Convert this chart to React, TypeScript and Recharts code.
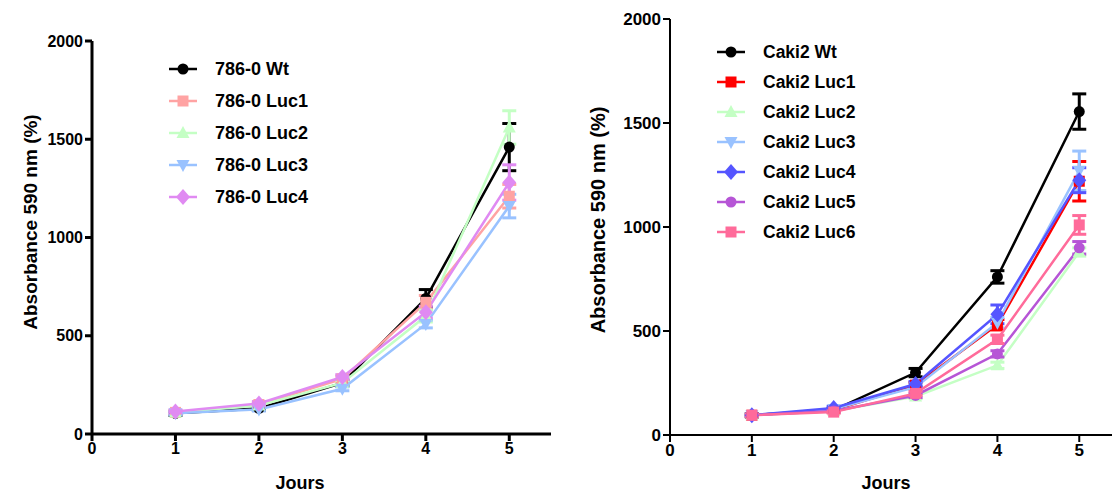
import React from "react";
import { LineChart, Line, XAxis, YAxis, ErrorBar, Legend } from "recharts";

const days = [1, 2, 3, 4, 5];
const yTicks = [0, 500, 1000, 1500, 2000];
const xTicks = [0, 1, 2, 3, 4, 5];

// 786-0 (gauche)
const wt786 = [105, 130, 260, 690, 1460];
const wt786Err = [10, 10, 15, 45, 120];
const luc1_786 = [110, 150, 280, 670, 1210];
const luc1_786Err = [8, 10, 15, 35, 60];
const luc2_786 = [110, 145, 260, 600, 1560];
const luc2_786Err = [8, 10, 12, 30, 85];
const luc3_786 = [105, 125, 230, 560, 1160];
const luc3_786Err = [8, 8, 10, 20, 60];
const luc4_786 = [115, 155, 290, 620, 1280];
const luc4_786Err = [8, 10, 12, 30, 90];

// Caki2 (droite)
const wtCaki = [95, 120, 300, 760, 1555];
const wtCakiErr = [8, 8, 20, 30, 85];
const luc1Caki = [95, 120, 240, 530, 1220];
const luc1CakiErr = [5, 8, 12, 25, 95];
const luc2Caki = [95, 115, 185, 335, 880];
const luc2CakiErr = [5, 5, 10, 15, 20];
const luc3Caki = [95, 125, 230, 540, 1270];
const luc3CakiErr = [5, 8, 12, 25, 95];
const luc4Caki = [95, 130, 245, 580, 1225];
const luc4CakiErr = [5, 8, 12, 45, 60];
const luc5Caki = [95, 115, 190, 390, 900];
const luc5CakiErr = [5, 5, 10, 15, 30];
const luc6Caki = [95, 110, 200, 460, 1010];
const luc6CakiErr = [5, 5, 10, 20, 45];

type Shape = "circle" | "square" | "triangle" | "down" | "diamond";
type Serie = { name: string; vals: number[]; err: number[]; color: string; shape: Shape };

const left: Serie[] = [
  { name: "786-0 Wt", vals: wt786, err: wt786Err, color: "#000000", shape: "circle" },
  { name: "786-0 Luc1", vals: luc1_786, err: luc1_786Err, color: "#ffa3a3", shape: "square" },
  { name: "786-0 Luc2", vals: luc2_786, err: luc2_786Err, color: "#c4ffc4", shape: "triangle" },
  { name: "786-0 Luc3", vals: luc3_786, err: luc3_786Err, color: "#99c2ff", shape: "down" },
  { name: "786-0 Luc4", vals: luc4_786, err: luc4_786Err, color: "#e08af2", shape: "diamond" },
];

const right: Serie[] = [
  { name: "Caki2 Wt", vals: wtCaki, err: wtCakiErr, color: "#000000", shape: "circle" },
  { name: "Caki2 Luc1", vals: luc1Caki, err: luc1CakiErr, color: "#ff0000", shape: "square" },
  { name: "Caki2 Luc2", vals: luc2Caki, err: luc2CakiErr, color: "#c4ffc4", shape: "triangle" },
  { name: "Caki2 Luc3", vals: luc3Caki, err: luc3CakiErr, color: "#99c2ff", shape: "down" },
  { name: "Caki2 Luc4", vals: luc4Caki, err: luc4CakiErr, color: "#5555ff", shape: "diamond" },
  { name: "Caki2 Luc5", vals: luc5Caki, err: luc5CakiErr, color: "#b655d6", shape: "circle" },
  { name: "Caki2 Luc6", vals: luc6Caki, err: luc6CakiErr, color: "#ff6b9a", shape: "square" },
];

const buildRows = (series: Serie[]) =>
  days.map((d, i) => {
    const row: Record<string, number> = { day: d };
    series.forEach((s, k) => {
      row["s" + k] = s.vals[i];
      row["e" + k] = s.err[i];
    });
    return row;
  });

const FONT = "'Liberation Sans', Arial, sans-serif";

function marker(shape: Shape, cx: number, cy: number, color: string, key?: string) {
  if (shape === "circle") return <circle key={key} cx={cx} cy={cy} r={5.5} fill={color} />;
  if (shape === "square") return <rect key={key} x={cx - 5.5} y={cy - 5.5} width={11} height={11} fill={color} />;
  if (shape === "triangle")
    return <path key={key} d={`M${cx},${cy - 7} L${cx + 6.5},${cy + 5} L${cx - 6.5},${cy + 5} Z`} fill={color} />;
  if (shape === "down")
    return <path key={key} d={`M${cx},${cy + 7} L${cx + 6.5},${cy - 5} L${cx - 6.5},${cy - 5} Z`} fill={color} />;
  return <path key={key} d={`M${cx},${cy - 8} L${cx + 7},${cy} L${cx},${cy + 8} L${cx - 7},${cy} Z`} fill={color} />;
}

const dotFor = (s: Serie) => (p: any) => marker(s.shape, p.cx, p.cy, s.color, `${s.name}-${p.index}`);

function LegendBox({ series, gap, fontSize }: { series: Serie[]; gap: number; fontSize: number }) {
  return (
    <div style={{ fontFamily: FONT }}>
      {series.map((s) => (
        <div key={s.name} style={{ display: "flex", alignItems: "center", height: gap }}>
          <svg width={30} height={18} style={{ marginRight: 17 }}>
            <line x1={1} y1={9} x2={29} y2={9} stroke={s.color} strokeWidth={2.5} />
            {marker(s.shape, 15, 9, s.color)}
          </svg>
          <span style={{ fontSize, fontWeight: "bold", color: "#000" }}>{s.name}</span>
        </div>
      ))}
    </div>
  );
}

type PanelProps = {
  series: Serie[];
  width: number;
  axisX: number;
  top: number;
  right: number;
  xMax: number;
  axisW: number;
  tickFont: number;
  titleFont: number;
  legendFont: number;
  legendLeft: number;
  legendTop: number;
  legendGap: number;
  yLabelX: number;
  yLabelY: number;
  xLabelX: number;
};

function Panel(p: PanelProps) {
  const rows = buildRows(p.series);
  const tickStyle = { fill: "#000", fontSize: p.tickFont, fontWeight: "bold", fontFamily: FONT };
  return (
    <LineChart
      width={p.width}
      height={494}
      data={rows}
      margin={{ top: p.top, right: p.right, bottom: 494 - 435 - 30 + (p.top > 30 ? 1 : 0), left: 0 }}
      style={{ fontFamily: FONT }}
    >
      <XAxis
        type="number"
        dataKey="day"
        domain={[0, p.xMax]}
        ticks={xTicks}
        height={30}
        tick={tickStyle}
        tickSize={7}
        axisLine={{ stroke: "#000", strokeWidth: p.axisW }}
        tickLine={{ stroke: "#000", strokeWidth: p.axisW }}
        label={{
          content: () => (
            <text x={p.xLabelX} y={489} textAnchor="middle" fontSize={18} fontWeight="bold" fontFamily={FONT} fill="#000">
              Jours
            </text>
          ),
        }}
      />
      <YAxis
        type="number"
        domain={[0, 2000]}
        ticks={yTicks}
        width={p.axisX}
        tick={tickStyle}
        tickSize={7}
        axisLine={{ stroke: "#000", strokeWidth: p.axisW }}
        tickLine={{ stroke: "#000", strokeWidth: p.axisW }}
        label={{
          content: () => (
            <text
              x={p.yLabelX}
              y={p.yLabelY}
              transform={`rotate(-90, ${p.yLabelX}, ${p.yLabelY})`}
              textAnchor="middle"
              dominantBaseline="central"
              fontSize={p.titleFont}
              fontWeight="bold"
              fontFamily={FONT}
              fill="#000"
            >
              Absorbance 590 nm (%)
            </text>
          ),
        }}
      />
      <Legend
        layout="vertical"
        align="center"
        verticalAlign="middle"
        wrapperStyle={{ left: p.legendLeft, top: p.legendTop }}
        content={() => <LegendBox series={p.series} gap={p.legendGap} fontSize={p.legendFont} />}
      />
      {p.series.map((s, k) => (
        <Line
          key={s.name}
          type="linear"
          dataKey={"s" + k}
          stroke={s.color}
          strokeWidth={2.5}
          dot={dotFor(s)}
          activeDot={false}
          isAnimationActive={false}
        >
          <ErrorBar dataKey={"e" + k} direction="y" width={7} stroke={s.color} strokeWidth={3} />
        </Line>
      ))}
    </LineChart>
  );
}

export default function App() {
  return (
    <div style={{ position: "absolute", left: 0, top: 0, width: 1116, height: 494, background: "#fff" }}>
      <div style={{ position: "absolute", left: 0, top: 0 }}>
        <Panel
          series={left}
          width={560}
          axisX={92}
          top={41}
          right={9}
          xMax={5.5}
          axisW={3}
          tickFont={16}
          titleFont={19}
          legendFont={18}
          legendLeft={168}
          legendTop={53}
          legendGap={32}
          yLabelX={30}
          yLabelY={222}
          xLabelX={300}
        />
      </div>
      <div style={{ position: "absolute", left: 560, top: 0 }}>
        <Panel
          series={right}
          width={556}
          axisX={110}
          top={19}
          right={4}
          xMax={5.4}
          axisW={2}
          tickFont={17}
          titleFont={20}
          legendFont={17.5}
          legendLeft={156}
          legendTop={37}
          legendGap={30}
          yLabelX={38}
          yLabelY={220}
          xLabelX={326}
        />
      </div>
    </div>
  );
}
